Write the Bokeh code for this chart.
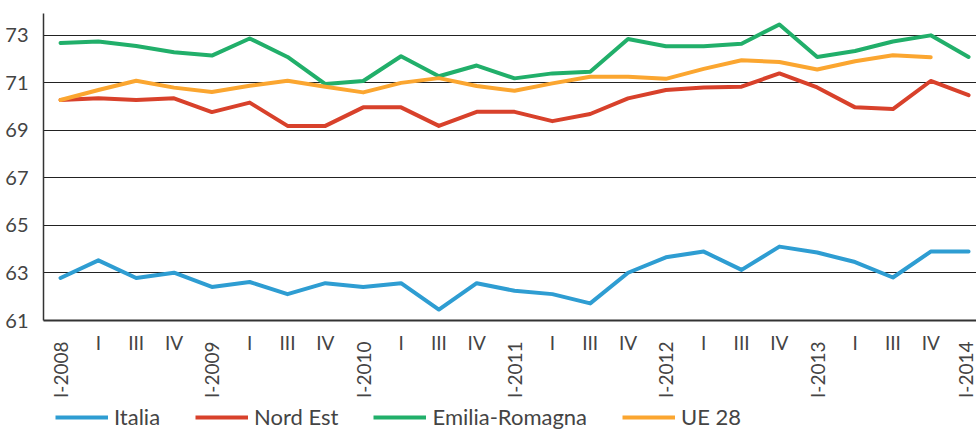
import math
from bokeh.plotting import figure
from bokeh.layouts import column
from bokeh.models import Range1d, FixedTicker, LinearAxis, Legend, LegendItem
from bokeh.embed import file_html
from bokeh.resources import INLINE

quarters = ["I-2008", "I", "III", "IV", "I-2009", "I", "III", "IV",
            "I-2010", "I", "III", "IV", "I-2011", "I", "III", "IV",
            "I-2012", "I", "III", "IV", "I-2013", "I", "III", "IV", "I-2014"]

italia = [62.79, 63.53, 62.79, 63.01, 62.41, 62.62, 62.11, 62.57, 62.41, 62.57,
          61.46, 62.57, 62.25, 62.11, 61.72, 63.01, 63.66, 63.90, 63.13, 64.11,
          63.86, 63.46, 62.81, 63.90, 63.90]
nord_est = [70.28, 70.35, 70.28, 70.35, 69.77, 70.17, 69.19, 69.19, 69.97, 69.97,
            69.19, 69.78, 69.78, 69.39, 69.69, 70.35, 70.70, 70.81, 70.84, 71.40,
            70.81, 69.97, 69.90, 71.08, 70.48]
emilia = [72.68, 72.74, 72.55, 72.29, 72.15, 72.87, 72.09, 70.95, 71.08, 72.12,
          71.28, 71.73, 71.19, 71.40, 71.47, 72.85, 72.54, 72.54, 72.65, 73.46,
          72.09, 72.34, 72.74, 73.00, 72.09]
ue28 = [70.28, 70.70, 71.09, 70.80, 70.62, 70.88, 71.09, 70.84, 70.60, 71.00,
        71.20, 70.87, 70.67, 70.98, 71.26, 71.26, 71.17, 71.59, 71.95, 71.88,
        71.56, 71.91, 72.16, 72.08, float("nan")]

series_names = ["Italia", "Nord Est", "Emilia-Romagna", "UE 28"]
series_colors = ["#2E9DD2", "#D8412B", "#21AF6A", "#FBA630"]
series_values = [italia, nord_est, emilia, ue28]
y_ticks = [61, 63, 65, 67, 69, 71, 73]

FONT = "Lato"
TXT = "#444444"

x = list(range(len(quarters)))
yr_idx = [i for i, q in enumerate(quarters) if "-" in q]

p = figure(width=976, height=400, output_backend="svg", toolbar_location=None,
           x_range=Range1d(-0.45, 24.21), y_range=Range1d(61, 73.92),
           min_border_left=43, min_border_right=0, min_border_top=13, min_border_bottom=79)
p.outline_line_color = None
p.background_fill_color = "white"
p.border_fill_color = "white"

for vals, col in zip(series_values, series_colors):
    p.line(x, vals, line_color=col, line_width=4, line_join="round", line_cap="round")

# x axis: short quarter labels, upright
p.xaxis.ticker = FixedTicker(ticks=x)
p.xaxis.major_label_overrides = {i: ("" if "-" in q else q) for i, q in enumerate(quarters)}
p.xaxis.major_tick_line_color = None
p.xaxis.minor_tick_line_color = None
p.xaxis.axis_line_color = "#333333"
p.xaxis.axis_line_width = 2
p.xaxis.major_label_standoff = 4
p.xaxis.major_label_text_font = FONT
p.xaxis.major_label_text_font_size = "19px"
p.xaxis.major_label_text_color = TXT

# second axis: year labels, rotated
yr_axis = LinearAxis(ticker=FixedTicker(ticks=yr_idx),
                     major_label_overrides={i: quarters[i] for i in yr_idx},
                     major_label_orientation=math.pi / 2,
                     axis_line_color=None, major_tick_line_color=None, minor_tick_line_color=None,
                     major_label_standoff=-21,
                     major_label_text_font=FONT, major_label_text_font_size="19px",
                     major_label_text_color=TXT)
p.add_layout(yr_axis, "below")

p.yaxis.ticker = FixedTicker(ticks=y_ticks)
p.yaxis.major_tick_line_color = None
p.yaxis.minor_tick_line_color = None
p.yaxis.axis_line_color = "#333333"
p.yaxis.axis_line_width = 1.5
p.yaxis.major_label_standoff = 9
p.yaxis.major_label_text_font = FONT
p.yaxis.major_label_text_font_size = "20px"
p.yaxis.major_label_text_color = TXT

p.xgrid.grid_line_color = None
p.ygrid.ticker = FixedTicker(ticks=y_ticks)
p.ygrid.grid_line_color = "#222222"
p.ygrid.grid_line_width = 1

# legend strip (series drawn off-range; only their legend entries show)
lg = figure(width=976, height=30, output_backend="svg", toolbar_location=None,
            x_range=Range1d(-0.45, 24.21), y_range=Range1d(0, 1),
            min_border_left=0, min_border_right=0, min_border_top=0, min_border_bottom=0)
lg.axis.visible = False
lg.grid.visible = False
lg.outline_line_color = None
proxies = [lg.line(x, vals, line_color=c, line_width=4) for vals, c in zip(series_values, series_colors)]
legend = Legend(items=[LegendItem(label=n, renderers=[r]) for n, r in zip(series_names, proxies)],
                orientation="horizontal", location=(12, 0),
                glyph_width=53, glyph_height=20, label_height=20,
                label_standoff=6, spacing=35, padding=0, margin=0,
                label_text_font=FONT, label_text_font_size="22px", label_text_color=TXT,
                border_line_color=None, background_fill_alpha=0)
lg.add_layout(legend, "center")

layout = column(p, lg, spacing=0)
open("out.html", "w").write(file_html(layout, INLINE))
